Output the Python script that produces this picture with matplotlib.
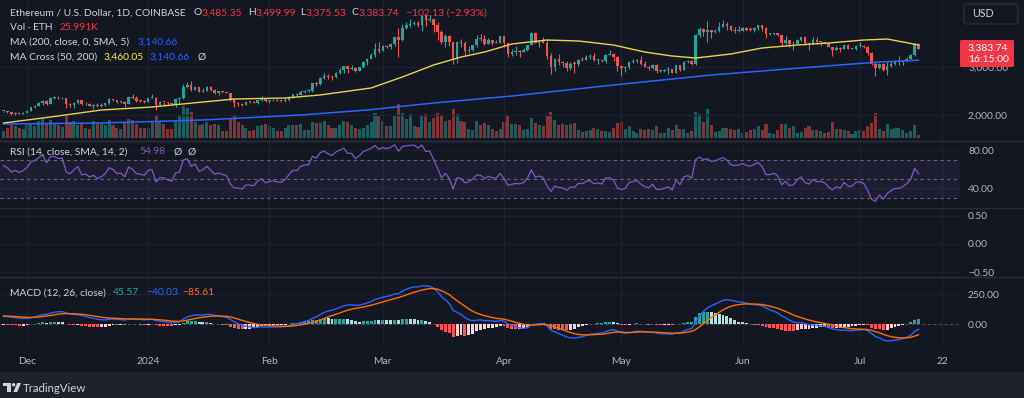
import numpy as np
import pandas as pd
import matplotlib
matplotlib.use("Agg")
import matplotlib.pyplot as plt
from matplotlib.patches import Rectangle, FancyBboxPatch, Circle, Polygon

# ---------------- data (ETH/USD daily, Coinbase) ----------------
start_date = "2023-11-25"
end_date = "2024-07-16"
first_open = 2081.0

closes = [
    2084, 2063, 2027, 2048, 2028, 2052,
    2087, 2166, 2193, 2243, 2294, 2233, 2358, 2361, 2344, 2353, 2225, 2202, 2260, 2314, 2220, 2230,
    2195, 2217, 2178, 2200, 2240, 2325, 2309, 2265, 2272, 2232, 2375, 2348, 2300, 2293, 2281,
    2352, 2356, 2210, 2268, 2267, 2240, 2222, 2330, 2345, 2584, 2618, 2525, 2575, 2475, 2510, 2585,
    2527, 2467, 2490, 2470, 2455, 2313, 2240, 2236, 2217, 2268, 2267, 2256, 2314, 2343, 2284,
    2303, 2309, 2296, 2290, 2322, 2373, 2428, 2425, 2484, 2503, 2507, 2658, 2643, 2778, 2822, 2800,
    2785, 2880, 2945, 3014, 2967, 2969, 2922, 2990, 3112, 3175, 3243, 3382, 3341,
    3433, 3420, 3487, 3626, 3553, 3820, 3869, 3890, 3915, 3880, 4065, 3980, 4003, 3880, 3735, 3520,
    3647, 3517, 3158, 3515, 3495, 3330, 3364, 3455, 3590, 3587, 3489, 3561, 3510, 3507, 3645,
    3505, 3280, 3310, 3330, 3320, 3350, 3454, 3702, 3505, 3545, 3500, 3233, 3005, 3158, 3100, 3085,
    2985, 3065, 3057, 3156, 3147, 3200, 3221, 3140, 3155, 3130, 3255, 3265, 3210, 3015,
    2970, 2990, 3100, 3120, 3140, 3062, 3006, 2975, 3035, 2912, 2912, 2930, 2950, 2882, 3037, 2945,
    3094, 3120, 3070, 3660, 3790, 3735, 3780, 3725, 3750, 3825, 3890, 3845, 3765, 3748, 3760,
    3810, 3780, 3768, 3812, 3866, 3810, 3680, 3680, 3705, 3665, 3500, 3560, 3470, 3480, 3570, 3620,
    3510, 3480, 3560, 3515, 3520, 3495, 3415, 3355, 3395, 3370, 3450, 3380, 3380, 3435,
    3440, 3415, 3295, 3060, 2980, 3070, 2930, 3020, 3065, 3100, 3100, 3130, 3175, 3245, 3485.35, 3383.74,
]
highs = [
    2092, 2092, 2070, 2069, 2068, 2055,
    2110, 2175, 2200, 2275, 2305, 2308, 2380, 2390, 2403, 2375, 2355, 2240, 2275, 2330, 2320, 2265,
    2240, 2225, 2255, 2260, 2260, 2345, 2335, 2320, 2290, 2285, 2393, 2445, 2388, 2320, 2320,
    2355, 2430, 2385, 2295, 2277, 2270, 2260, 2345, 2370, 2645, 2690, 2715, 2605, 2580, 2560, 2610,
    2595, 2545, 2500, 2490, 2475, 2465, 2345, 2265, 2245, 2275, 2280, 2295, 2320, 2390, 2350,
    2310, 2325, 2330, 2305, 2365, 2395, 2445, 2465, 2520, 2515, 2535, 2665, 2690, 2785, 2865, 2850,
    2805, 2895, 2985, 3030, 3015, 3035, 2990, 3005, 3115, 3195, 3285, 3490, 3520,
    3450, 3455, 3495, 3640, 3820, 3905, 3935, 4010, 3950, 3960, 4085, 4093, 4085, 4010, 3935, 3780,
    3680, 3660, 3530, 3530, 3590, 3540, 3430, 3460, 3665, 3678, 3665, 3610, 3570, 3565, 3655,
    3648, 3510, 3365, 3445, 3350, 3395, 3465, 3730, 3725, 3560, 3615, 3555, 3290, 3180, 3280, 3125,
    3125, 3095, 3130, 3175, 3200, 3240, 3265, 3295, 3175, 3165, 3270, 3355, 3285, 3230,
    3025, 3015, 3125, 3170, 3170, 3220, 3125, 3030, 3060, 3055, 2945, 2955, 2995, 2960, 3040, 3045,
    3120, 3145, 3140, 3690, 3840, 3810, 3950, 3775, 3785, 3935, 3975, 3930, 3880, 3825, 3845,
    3835, 3835, 3830, 3830, 3885, 3880, 3840, 3715, 3715, 3710, 3670, 3650, 3565, 3535, 3585, 3630,
    3640, 3520, 3620, 3625, 3550, 3525, 3505, 3425, 3435, 3425, 3485, 3480, 3400, 3460,
    3525, 3465, 3430, 3310, 3110, 3085, 3080, 3095, 3115, 3145, 3220, 3145, 3205, 3280, 3495, 3499.99,
]
lows = [
    2071, 2041, 1998, 2005, 2018, 2022,
    2045, 2085, 2150, 2180, 2200, 2215, 2225, 2340, 2335, 2325, 2150, 2160, 2145, 2230, 2215, 2210,
    2185, 2115, 2160, 2170, 2180, 2230, 2290, 2260, 2250, 2160, 2220, 2335, 2270, 2265, 2260,
    2265, 2345, 2100, 2205, 2210, 2210, 2205, 2165, 2230, 2340, 2555, 2505, 2515, 2470, 2475, 2500,
    2510, 2440, 2415, 2455, 2450, 2300, 2165, 2195, 2195, 2205, 2250, 2240, 2230, 2300, 2270,
    2240, 2285, 2290, 2270, 2275, 2300, 2345, 2405, 2415, 2465, 2480, 2470, 2600, 2625, 2760, 2755,
    2720, 2765, 2860, 2875, 2880, 2930, 2900, 2910, 2985, 3040, 3165, 3200, 3300,
    3325, 3400, 3385, 3435, 3200, 3540, 3795, 3825, 3880, 3835, 3740, 3850, 3935, 3725, 3570, 3470,
    3420, 3440, 3060, 3085, 3410, 3250, 3290, 3330, 3410, 3550, 3465, 3470, 3460, 3490, 3495,
    3420, 3215, 3230, 3260, 3210, 3310, 3340, 3450, 3490, 3425, 3490, 3160, 2855, 2920, 3035, 2990,
    2920, 2930, 2865, 3025, 3125, 3140, 3175, 3125, 3070, 3110, 3080, 3250, 3120, 2910,
    2815, 2895, 2960, 3090, 3080, 3045, 3000, 2935, 2950, 2880, 2895, 2900, 2860, 2865, 2865, 2925,
    2935, 3090, 3050, 3045, 3620, 3655, 3530, 3610, 3715, 3730, 3825, 3770, 3740, 3700, 3720,
    3750, 3755, 3750, 3730, 3780, 3760, 3610, 3670, 3665, 3640, 3445, 3450, 3410, 3360, 3470, 3550,
    3450, 3355, 3475, 3480, 3440, 3475, 3410, 3235, 3345, 3315, 3365, 3375, 3370, 3360,
    3425, 3405, 3260, 3050, 2810, 2965, 2920, 2825, 3005, 3035, 3050, 3040, 3120, 3145, 3235, 3375.53,
]
volumes_k = [
    60, 85, 110, 100, 85, 80,
    110, 120, 100, 150, 170, 130, 160, 120, 115, 95, 190, 140, 150, 115, 130, 85,
    80, 150, 130, 120, 115, 160, 110, 85, 75, 130, 165, 160, 120, 90, 85,
    85, 150, 200, 140, 120, 80, 75, 150, 190, 280, 270, 230, 140, 110, 120, 140,
    110, 120, 110, 60, 55, 180, 200, 140, 110, 90, 60, 70, 100, 110, 120,
    100, 90, 55, 60, 90, 110, 110, 110, 120, 70, 70, 140, 130, 130, 150, 110,
    85, 90, 115, 150, 140, 110, 90, 75, 90, 110, 140, 220, 190,
    150, 100, 105, 200, 300, 220, 170, 210, 100, 95, 190, 210, 140, 180, 220, 200,
    150, 160, 260, 210, 150, 140, 80, 70, 150, 110, 130, 110, 80, 55, 80,
    140, 190, 120, 120, 110, 70, 80, 180, 130, 110, 100, 200, 230, 160, 110, 120,
    110, 120, 130, 70, 50, 60, 70, 90, 80, 60, 55, 50, 90, 130,
    140, 80, 100, 60, 45, 80, 70, 75, 65, 100, 40, 40, 85, 70, 110, 80,
    80, 40, 55, 230, 210, 140, 260, 110, 50, 60, 90, 90, 80, 70, 80,
    40, 50, 70, 80, 100, 70, 120, 40, 30, 70, 120, 120, 90, 100, 40, 50,
    90, 100, 70, 65, 60, 40, 50, 140, 80, 80, 70, 55, 30, 60,
    70, 60, 100, 130, 220, 80, 60, 120, 80, 90, 85, 70, 40, 60, 110, 26,
]
# closes before the visible window (Oct 12 - Nov 24, 2023), used only to warm up RSI / MACD
warmup_closes = [
    1540, 1553, 1557, 1558, 1600, 1565, 1565, 1568, 1605, 1628, 1665, 1765, 1790, 1787, 1803, 1780,
    1775, 1792, 1808, 1815, 1845, 1805, 1832, 1860, 1895, 1899, 1886, 1890, 2118, 2078, 2052, 2045,
    2053, 1980, 2060, 1960, 1961, 1963, 2013, 2022, 1930, 2062, 2063, 2081,
]

ma50_dates = ["2023-11-25", "2023-12-07", "2023-12-20", "2024-01-02", "2024-01-15", "2024-01-23",
              "2024-02-05", "2024-02-14", "2024-02-27", "2024-03-06", "2024-03-14", "2024-03-21",
              "2024-03-27", "2024-04-03", "2024-04-12", "2024-04-20", "2024-04-29", "2024-05-07",
              "2024-05-14", "2024-05-20", "2024-05-29", "2024-06-06", "2024-06-15", "2024-06-23",
              "2024-07-02", "2024-07-08", "2024-07-16"]
ma50_values = [1833, 1958, 2104, 2167, 2271, 2333, 2354, 2417, 2563, 2792, 3042, 3208, 3312, 3479,
               3562, 3542, 3458, 3312, 3229, 3187, 3271, 3396, 3458, 3500, 3562, 3583, 3460.05]
ma200_dates = ["2023-11-25", "2023-12-20", "2024-01-15", "2024-02-09", "2024-02-26", "2024-03-14",
               "2024-04-03", "2024-04-29", "2024-05-24", "2024-06-19", "2024-07-06", "2024-07-16"]
ma200_values = [1813, 1833, 1896, 2000, 2104, 2250, 2396, 2625, 2833, 3000, 3104, 3140.66]

time_ticks = ["2023-12-01", "2024-01-01", "2024-02-01", "2024-03-01", "2024-04-01",
              "2024-05-01", "2024-06-01", "2024-07-01", "2024-07-22"]
time_labels = ["Dec", "2024", "Feb", "Mar", "Apr", "May", "Jun", "Jul", "22"]
price_ticks = [2000, 3000]
price_labels = ["2,000.00", "3,000.00"]
rsi_ticks = [80, 40]
rsi_labels = ["80.00", "40.00"]
empty_ticks = [0.5, 0.0, -0.5]
empty_labels = ["0.50", "0.00", "\u22120.50"]
macd_ticks = [250, 0]
macd_labels = ["250.00", "0.00"]

# ---------------- style / layout ----------------
W, H = 1024, 398
BG = "#131722"
BAR_BG = "#1e222d"
GRID = "#1d2130"
SEP = "#2a2e39"
TXT = "#d1d4dc"
AXT = "#b2b5be"
UP = "#26a69a"
DN = "#ef5350"
FONT = ["Lato", "DejaVu Sans"]
FS = 7.4

ORIGIN = pd.Timestamp("2023-12-01")
X0_PX, PX_DAY, RIGHT_PX = 27.0, 3.91, 960.0
XLIM = (-X0_PX / PX_DAY, (RIGHT_PX - X0_PX) / PX_DAY)


def dnum(s):
    return (pd.Timestamp(s) - ORIGIN).days


def rect(x0, y0, x1, y1):
    return [x0 / W, 1 - y1 / H, (x1 - x0) / W, (y1 - y0) / H]


dates = pd.date_range(start_date, end_date, freq="D")
x = np.array([(d - ORIGIN).days for d in dates], dtype=float)
c = np.array(closes, dtype=float)
o = np.concatenate([[first_open], c[:-1]])
o[-1] = 3485.35
h = np.maximum(np.array(highs, dtype=float), np.maximum(o, c))
l = np.minimum(np.array(lows, dtype=float), np.minimum(o, c))
v = np.array(volumes_k, dtype=float)
up = c >= o

# indicators
allc = pd.Series(warmup_closes + list(c))
delta = allc.diff()
ag = delta.clip(lower=0).ewm(alpha=1 / 14, adjust=False).mean()
al = (-delta.clip(upper=0)).ewm(alpha=1 / 14, adjust=False).mean()
rsi = (100 - 100 / (1 + ag / al)).values[len(warmup_closes):]
ema12 = allc.ewm(span=12, adjust=False).mean()
ema26 = allc.ewm(span=26, adjust=False).mean()
macd_full = ema12 - ema26
sig_full = macd_full.ewm(span=9, adjust=False).mean()
hist_full = macd_full - sig_full
n0 = len(warmup_closes)
macd = macd_full.values[n0:]
sig = sig_full.values[n0:]
hist = hist_full.values[n0:]
hist_prev = hist_full.values[n0 - 1:-1]

fig = plt.figure(figsize=(W / 100, H / 100), dpi=100, facecolor=BG)

ax_bg = fig.add_axes([0, 0, 1, 1], zorder=0)
ax_bg.set_xlim(0, W)
ax_bg.set_ylim(H, 0)
ax_bg.axis("off")
ax_bg.add_patch(Rectangle((0, 372), W, H - 372, color=BAR_BG, lw=0))


def style_axis(ax, ylim, ticks, labels, zorder=1):
    ax.set_zorder(zorder)
    ax.set_facecolor("none")
    ax.set_xlim(*XLIM)
    ax.set_ylim(*ylim)
    for s in ax.spines.values():
        s.set_visible(False)
    ax.set_xticks([])
    ax.yaxis.tick_right()
    ax.set_yticks(ticks)
    ax.set_yticklabels(labels)
    ax.tick_params(axis="y", length=0, pad=5.8, labelsize=FS, labelcolor=AXT)
    for t in ax.get_yticklabels():
        t.set_fontfamily(FONT)
    for d in time_ticks:
        ax.axvline(dnum(d), color=GRID, lw=1, zorder=0)
    for t in ticks:
        ax.axhline(t, color=GRID, lw=1, zorder=0)


# volume pane (under the candles)
VK_PX = 9.0
ax_v = fig.add_axes(rect(0, 0, RIGHT_PX, 140))
ax_v.set_zorder(1)
ax_v.set_facecolor("none")
ax_v.set_xlim(*XLIM)
ax_v.set_ylim(-2.5 * VK_PX, (140 - 2.5) * VK_PX)
ax_v.axis("off")
for d in time_ticks:
    ax_v.axvline(dnum(d), color=GRID, lw=1, zorder=0)
ax_v.bar(x, v, width=0.78, color=np.where(up, UP, DN), alpha=0.5, lw=0)

# price pane
P_PER_PX = 1000 / 48.0
ax_p = fig.add_axes(rect(0, 0, RIGHT_PX, 140))
style_axis(ax_p, (3000 - (140 - 67) * P_PER_PX, 3000 + 67 * P_PER_PX), price_ticks, price_labels, zorder=2)
for yy in price_ticks:
    pass
col = np.where(up, UP, DN)
ax_p.vlines(x, l, h, colors=col, lw=0.8, zorder=3)
body = np.maximum(np.abs(c - o), P_PER_PX * 0.9)
ax_p.bar(x, body, bottom=np.minimum(o, c), width=0.64, color=col, lw=0, zorder=4)
ax_p.plot([dnum(d) for d in ma200_dates], ma200_values, color="#2962ff", lw=1.1, zorder=5)
ax_p.plot([dnum(d) for d in ma50_dates], ma50_values, color="#e8d44d", lw=1.0, zorder=5)

# RSI pane
ax_r = fig.add_axes(rect(0, 141, RIGHT_PX, 208))
style_axis(ax_r, (80 - (208 - 150) / 0.95, 80 + (150 - 141) / 0.95), rsi_ticks, rsi_labels)
ax_r.axhspan(30, 70, xmin=0, xmax=1, color="#7e57c2", alpha=0.10, lw=0)
for lev in (70, 50, 30):
    ax_r.axhline(lev, color="#787b86", lw=0.8, ls=(0, (3, 3)), alpha=0.8)
ax_r.plot(x, rsi, color="#7e57c2", lw=0.9)

# empty pane
ax_e = fig.add_axes(rect(0, 208, RIGHT_PX, 277))
style_axis(ax_e, (0.5 - (277 - 216) / 56.0, 0.5 + (216 - 208) / 56.0), empty_ticks, empty_labels)

# MACD pane
M_PER_PX = 250 / 30.3
ax_m = fig.add_axes(rect(0, 277, RIGHT_PX, 345))
style_axis(ax_m, (250 - (345 - 294) * M_PER_PX, 250 + (294 - 277) * M_PER_PX), macd_ticks, macd_labels)
ax_m.axhline(0, color="#787b86", lw=0.8, ls=(0, (2, 3)), alpha=0.6)
hcol = np.where(hist >= 0, np.where(hist > hist_prev, "#26a69a", "#b2dfdb"),
                np.where(hist < hist_prev, "#ff5252", "#ffcdd2"))
ax_m.bar(x, hist, width=0.75, color=hcol, lw=0, zorder=2)
ax_m.plot(x, macd, color="#2962ff", lw=1.0, zorder=3)
ax_m.plot(x, sig, color="#ff6d00", lw=1.0, zorder=3)
ax_m.set_xticks([dnum(d) for d in time_ticks])
ax_m.set_xticklabels(time_labels)
ax_m.tick_params(axis="x", length=0, pad=8.5, labelsize=FS, labelcolor=AXT)
for t in ax_m.get_xticklabels():
    t.set_fontfamily(FONT)

# overlay: separators, legends, labels
ax_o = fig.add_axes([0, 0, 1, 1], zorder=10)
ax_o.set_facecolor("none")
ax_o.set_xlim(0, W)
ax_o.set_ylim(H, 0)
ax_o.axis("off")
for yy in (140.5, 208, 277):
    ax_o.plot([0, W], [yy, yy], color=SEP, lw=1)

renderer = fig.canvas.get_renderer()


def segs(x0, y0, parts, size=FS, weight="normal"):
    xx = x0
    for s, colr in parts:
        if s == " ":
            xx += 3.5
            continue
        t = ax_o.text(xx, y0, s, color=colr, fontsize=size, family=FONT, va="center", ha="left",
                      weight=weight)
        xx += t.get_window_extent(renderer).width
    return xx


RED = "#f23645"
segs(10, 12.7, [("Ethereum / U.S. Dollar, 1D, COINBASE", TXT)])
segs(193, 12.7, [("O", TXT), ("3,485.35", RED)])
segs(248, 12.7, [("H", TXT), ("3,499.99", RED)])
segs(300, 12.7, [("L", TXT), ("3,375.53", RED)])
segs(352, 12.7, [("C", TXT), ("3,383.74", RED)])
segs(406, 12.7, [("\u2212102.13 (\u22122.93%)", RED)])
segs(10, 27, [("Vol \u00b7 ETH", TXT)])
segs(60, 27, [("25.991K", RED)])
segs(10, 42.3, [("MA (200, close, 0, SMA, 5)", TXT)])
segs(138, 42.3, [("3,140.66", "#2962ff")])
segs(10, 57.3, [("MA Cross (50, 200)", TXT)])
segs(103, 57.3, [("3,460.05", "#ffeb3b")])
segs(150, 57.3, [("3,140.66", "#2962ff")])
segs(197, 57.3, [("\u00d8", TXT)])
segs(10, 151.7, [("RSI (14, close, SMA, 14, 2)", TXT)])
segs(139, 151.7, [("54.98", "#7e57c2")])
segs(173, 151.7, [("\u00d8", TXT)])
segs(187, 151.7, [("\u00d8", TXT)])
segs(10, 292.7, [("MACD (12, 26, close)", TXT)])
segs(113, 292.7, [("45.57", "#26a69a")])
segs(146, 292.7, [("\u221240.03", "#2962ff")])
segs(182, 292.7, [("\u221285.61", "#ff6d00")])

# USD box
ax_o.add_patch(FancyBboxPatch((964, 4), 54, 20, boxstyle="round,pad=0,rounding_size=3",
                              fc=BG, ec=SEP, lw=1))
ax_o.text(972, 13.5, "USD", color=TXT, fontsize=FS + 0.3, family=FONT, va="center", ha="left")

# current price box
ax_o.add_patch(FancyBboxPatch((960, 40), 54, 27, boxstyle="round,pad=0,rounding_size=1.5",
                              fc=RED, ec="none"))
ax_o.text(968, 47.7, "3,383.74", color="white", fontsize=FS, family=FONT, va="center", ha="left")
ax_o.text(968, 59.5, "16:15:00", color="white", fontsize=FS, family=FONT, va="center", ha="left")

# TradingView logo
LOGO = "#d1d4dc"
ax_o.add_patch(Rectangle((3, 383), 8, 3.2, color=LOGO, lw=0))
ax_o.add_patch(Rectangle((7.2, 383), 3.4, 9, color=LOGO, lw=0))
ax_o.add_patch(Circle((13.6, 384.8), 1.7, color=LOGO, lw=0))
ax_o.add_patch(Polygon([(17.2, 383), (21, 383), (17.2, 392), (13.4, 392)], closed=True, color=LOGO, lw=0))
ax_o.text(23, 388, "TradingView", color=LOGO, fontsize=8.2, family=FONT, va="center", ha="left")

fig.savefig("out.png", dpi=100, facecolor=BG)
